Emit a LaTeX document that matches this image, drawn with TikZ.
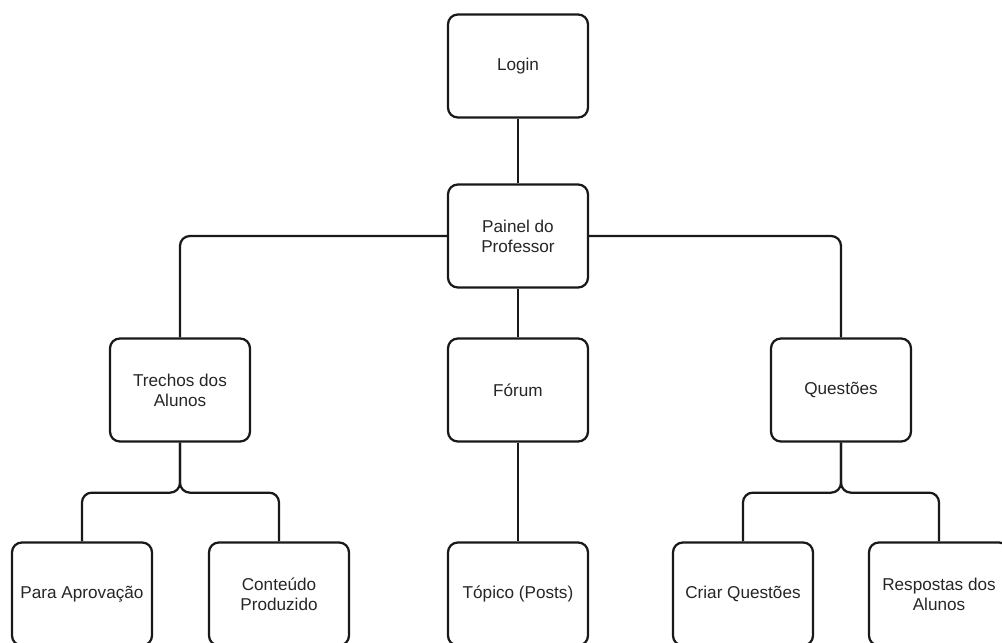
\documentclass[tikz,border=0pt]{standalone}
\usepackage{fontspec}
\setmainfont{Liberation Sans}
\usepackage{tikz}
\usetikzlibrary{positioning}

\begin{document}
\begin{tikzpicture}[on grid,
              caixa/.style={draw=black!90, line width=1.6pt, rounded corners=7pt,
                fill=white, text=black!85, align=center,
                minimum width=3.5cm, minimum height=2.575cm,
                font=\fontsize{12.2}{14.2}\selectfont},
              ligacao/.style={draw=black!90, line width=1.6pt, rounded corners=7pt}]
              \useasboundingbox (-12.95,1.65) rectangle (12.1,-14.425);
              \node[caixa] (login) {Login};
              \node[caixa, below=4.25cm of login] (painel) {Painel do\\Professor};
              \node[caixa, below=3.85cm of painel] (forum) {Fórum};
              \node[caixa, left=8.45cm of forum] (trechos) {Trechos dos\\Alunos};
              \node[caixa, right=8.075cm of forum] (questoes) {Questões};
              \node[caixa, below=5.1cm of forum] (topico) {Tópico (Posts)};
              \node[caixa, below left=5.1cm and 2.45cm of trechos] (para) {Para Aprovação};
              \node[caixa, below right=5.1cm and 2.475cm of trechos] (conteudo) {Conteúdo\\Produzido};
              \node[caixa, below left=5.1cm and 2.45cm of questoes] (criar) {Criar Questões};
              \node[caixa, below right=5.1cm and 2.45cm of questoes] (respostas) {Respostas dos\\Alunos};
              \draw[ligacao] (login) -- (painel);
              \draw[ligacao] (painel) -- (forum);
              \draw[ligacao] (painel.west) -| (trechos.north);
              \draw[ligacao] (painel.east) -| (questoes.north);
              \draw[ligacao] (forum) -- (topico);
              \draw[ligacao] (trechos.south) -- ++(0,-1.25) -| (para.north);
              \draw[ligacao] (trechos.south) -- ++(0,-1.25) -| (conteudo.north);
              \draw[ligacao] (questoes.south) -- ++(0,-1.25) -| (criar.north);
              \draw[ligacao] (questoes.south) -- ++(0,-1.25) -| (respostas.north);
            \end{tikzpicture}
\end{document}
